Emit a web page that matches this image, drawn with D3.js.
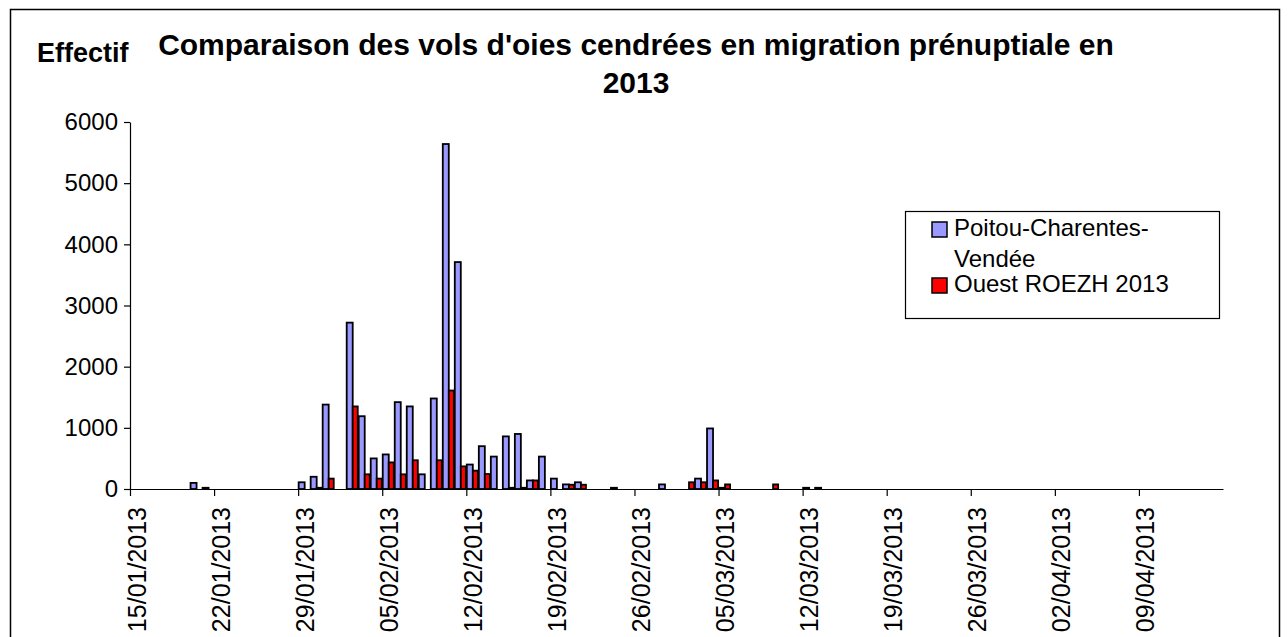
<!DOCTYPE html>
<html>
<head>
<meta charset="utf-8">
<script src="https://cdnjs.cloudflare.com/ajax/libs/d3/7.8.5/d3.min.js"></script>
<style>
  body { margin: 0; background: #fff; }
  text { font-family: Arial, "Liberation Sans", sans-serif; }
</style>
</head>
<body>
<div id="chart"></div>
<script>
// Data variables
var days = ["20/01/2013", "21/01/2013", "29/01/2013", "30/01/2013", "31/01/2013",
  "02/02/2013", "03/02/2013", "04/02/2013", "05/02/2013", "06/02/2013", "07/02/2013",
  "08/02/2013", "09/02/2013", "10/02/2013", "11/02/2013", "12/02/2013", "13/02/2013",
  "14/02/2013", "15/02/2013", "16/02/2013", "17/02/2013", "18/02/2013", "19/02/2013",
  "20/02/2013", "21/02/2013", "24/02/2013", "28/02/2013", "02/03/2013", "03/03/2013",
  "04/03/2013", "05/03/2013", "09/03/2013", "12/03/2013", "13/03/2013"];
var poitou = [100, 20, 110, 200, 1380,
  2720, 1190, 500, 565, 1420, 1350,
  240, 1480, 5640, 3710, 400, 700,
  530, 860, 900, 140, 530, 170,
  75, 110, 20, 75, 0, 170,
  990, 20, 0, 20, 20];
var roezh = [0, 0, 0, 20, 170,
  1350, 240, 170, 435, 240, 470,
  0, 470, 1610, 370, 300, 245,
  0, 20, 20, 140, 0, 0,
  70, 70, 0, 0, 110, 110,
  140, 75, 75, 0, 0];
var tickLabels = ["15/01/2013", "22/01/2013", "29/01/2013", "05/02/2013", "12/02/2013",
  "19/02/2013", "26/02/2013", "05/03/2013", "12/03/2013", "19/03/2013", "26/03/2013",
  "02/04/2013", "09/04/2013"];
var yTicks = [0, 1000, 2000, 3000, 4000, 5000, 6000];
var seriesNames = ["Poitou-Charentes-", "Vendée", "Ouest ROEZH 2013"];

var width = 1288;
var height = 637;
var plotLeft = 130, plotRight = 1223, plotTop = 122, plotBottom = 489;
var blueColor = "#9999ff";
var redColor = "#ff0000";

var parseDate = d3.timeParse("%d/%m/%Y");

var rows = days.map((d, i) => {
  return {date: parseDate(d), poitou: poitou[i], roezh: roezh[i]};
});

/* Add SVG */
var svg = d3.select("#chart").append("svg")
  .attr("width", width)
  .attr("height", height);

// chart frame
svg.append("rect")
  .attr("x", 10.5).attr("y", 9.5)
  .attr("width", 1269).attr("height", 640)
  .attr("fill", "none")
  .attr("stroke", "#000")
  .attr("stroke-width", 1.5);

/* Scales */
var xScale = d3.scaleTime()
  .domain([parseDate("15/01/2013"), parseDate("16/04/2013")])
  .range([plotLeft, plotRight]);

var yScale = d3.scaleLinear()
  .domain([0, 6000])
  .range([plotBottom, plotTop]);

var dayW = xScale(parseDate("16/01/2013")) - xScale(parseDate("15/01/2013"));

/* Bars */
var groups = svg.append("g").attr("class", "bars")
  .selectAll("g")
  .data(rows).enter()
  .append("g");

groups.filter(d => d.poitou > 0).append("rect")
  .attr("x", d => xScale(d.date) + 0.5)
  .attr("y", d => yScale(d.poitou))
  .attr("width", dayW * 0.5)
  .attr("height", d => plotBottom - yScale(d.poitou))
  .attr("fill", blueColor)
  .attr("stroke", "#000")
  .attr("stroke-width", 1.8);

groups.filter(d => d.roezh > 0).append("rect")
  .attr("x", d => xScale(d.date) + dayW * 0.5 + 0.5)
  .attr("y", d => yScale(d.roezh))
  .attr("width", dayW * 0.42)
  .attr("height", d => plotBottom - yScale(d.roezh))
  .attr("fill", redColor)
  .attr("stroke", "#000")
  .attr("stroke-width", 1.8);

/* Axes */
var xAxis = d3.axisBottom(xScale)
  .tickValues(tickLabels.map(parseDate))
  .tickFormat(d3.timeFormat("%d/%m/%Y"))
  .tickSize(7)
  .tickSizeOuter(0);

var xAxisGroup = svg.append("g")
  .attr("transform", `translate(0, ${plotBottom})`)
  .call(xAxis);

xAxisGroup.select(".domain").attr("stroke", "#000").attr("stroke-width", 1.2);
xAxisGroup.selectAll(".tick line").attr("stroke", "#000").attr("stroke-width", 1.2);
xAxisGroup.selectAll(".tick text")
  .attr("font-size", "25px")
  .attr("fill", "#000")
  .attr("text-anchor", "end")
  .attr("transform", "rotate(-90)")
  .attr("x", -18)
  .attr("y", 0)
  .attr("dy", "0.6em");

var yAxis = d3.axisLeft(yScale)
  .tickValues(yTicks)
  .tickFormat(d3.format("d"))
  .tickSize(6)
  .tickSizeOuter(0);

var yAxisGroup = svg.append("g")
  .attr("transform", `translate(${plotLeft}, 0)`)
  .call(yAxis);

yAxisGroup.select(".domain").attr("stroke", "#000").attr("stroke-width", 1.2);
yAxisGroup.selectAll(".tick line").attr("stroke", "#000").attr("stroke-width", 1.2);
yAxisGroup.selectAll(".tick text")
  .attr("font-size", "24px")
  .attr("fill", "#000")
  .attr("x", -12);

/* Titles */
svg.append("text")
  .attr("x", 636).attr("y", 55)
  .attr("text-anchor", "middle")
  .attr("font-size", "30px")
  .attr("font-weight", "bold")
  .text("Comparaison des vols d'oies cendrées en migration prénuptiale en");

svg.append("text")
  .attr("x", 636).attr("y", 93)
  .attr("text-anchor", "middle")
  .attr("font-size", "30px")
  .attr("font-weight", "bold")
  .text("2013");

svg.append("text")
  .attr("x", 37).attr("y", 62)
  .attr("font-size", "27px")
  .attr("font-weight", "bold")
  .text("Effectif");

/* Legend */
var legend = svg.append("g").attr("class", "legend");

legend.append("rect")
  .attr("x", 905.5).attr("y", 211.5)
  .attr("width", 314).attr("height", 107)
  .attr("fill", "#fff")
  .attr("stroke", "#000")
  .attr("stroke-width", 1.2);

legend.append("rect")
  .attr("x", 932).attr("y", 222)
  .attr("width", 15).attr("height", 15)
  .attr("fill", blueColor)
  .attr("stroke", "#000")
  .attr("stroke-width", 1.5);

legend.append("rect")
  .attr("x", 932).attr("y", 278)
  .attr("width", 15).attr("height", 15)
  .attr("fill", redColor)
  .attr("stroke", "#000")
  .attr("stroke-width", 1.5);

legend.selectAll("text.item")
  .data(seriesNames).enter()
  .append("text")
  .attr("class", "item")
  .attr("x", 954)
  .attr("y", (d, i) => [236, 267, 292][i])
  .attr("font-size", "24px")
  .text(d => d);
</script>
</body>
</html>
